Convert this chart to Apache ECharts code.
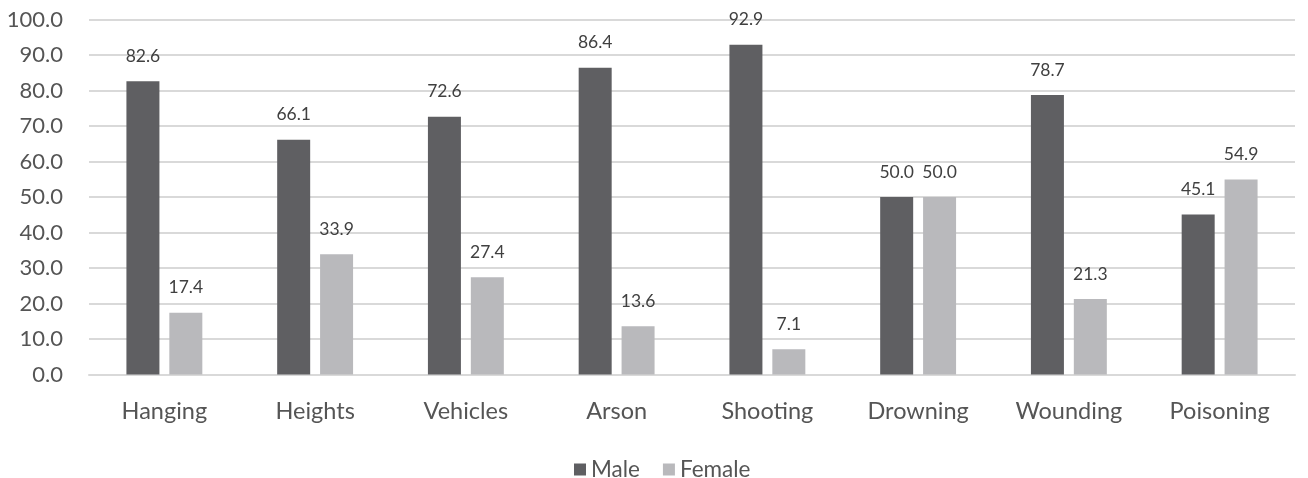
<!DOCTYPE html>
<html>
<head>
<meta charset="utf-8">
<script src="https://cdn.jsdelivr.net/npm/echarts@6/dist/echarts.min.js"></script>
<style>
  html, body { margin: 0; padding: 0; background: #fff; }
  #chart { width: 1308px; height: 478px; }
</style>
</head>
<body>
<div id="chart"></div>
<script>
// Share of cases by method, split by sex (%)
const categories = ['Hanging', 'Heights', 'Vehicles', 'Arson', 'Shooting', 'Drowning', 'Wounding', 'Poisoning'];
const maleValues = [82.6, 66.1, 72.6, 86.4, 92.9, 50.0, 78.7, 45.1];
const femaleValues = [17.4, 33.9, 27.4, 13.6, 7.1, 50.0, 21.3, 54.9];

const FONT = 'Lato, "Noto Sans", sans-serif';
const chart = echarts.init(document.getElementById('chart'));

const labelStyle = {
  show: true,
  position: 'top',
  distance: 16,
  color: '#404040',
  fontSize: 17.5,
  fontFamily: FONT,
  formatter: p => p.value.toFixed(1)
};

chart.setOption({
  animation: false,
  grid: { left: 89, right: 13, top: 19.5, bottom: 103.5, containLabel: false },
  legend: {
    top: 453,
    left: 569,
    itemWidth: 12,
    itemHeight: 12,
    itemGap: 23,
    icon: 'rect',
    textStyle: { color: '#555555', fontSize: 22.5, fontFamily: FONT },
    data: ['Male', 'Female']
  },
  xAxis: {
    type: 'category',
    data: categories,
    axisLine: { show: true, lineStyle: { color: '#d9d9d9', width: 2 } },
    axisTick: { show: false },
    axisLabel: { color: '#555555', fontSize: 23.5, fontFamily: FONT, margin: 25 }
  },
  yAxis: {
    type: 'value',
    min: 0,
    max: 100,
    interval: 10,
    axisLine: { show: false },
    axisTick: { show: false },
    splitLine: { lineStyle: { color: '#d9d9d9', width: 2 } },
    axisLabel: {
      color: '#555555', fontSize: 22, fontFamily: FONT, margin: 26,
      formatter: v => v.toFixed(1)
    }
  },
  series: [
    {
      name: 'Male',
      type: 'bar',
      data: maleValues,
      barWidth: 33,
      barGap: '30%',
      itemStyle: { color: '#5f5f62' },
      label: labelStyle
    },
    {
      name: 'Female',
      type: 'bar',
      data: femaleValues,
      barWidth: 33,
      barGap: '30%',
      itemStyle: { color: '#b9b9bc' },
      label: labelStyle
    }
  ]
});
</script>
</body>
</html>
